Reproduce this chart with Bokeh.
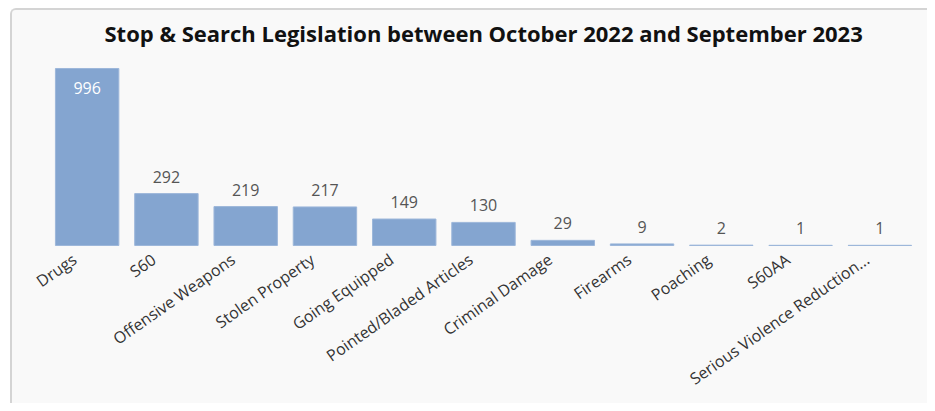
from bokeh.plotting import figure
from bokeh.models import ColumnDataSource, Range1d
from bokeh.embed import file_html
from bokeh.resources import INLINE
from bokeh.core.properties import value
import math

categories = ["Drugs", "S60", "Offensive Weapons", "Stolen Property", "Going Equipped",
              "Pointed/Bladed Articles", "Criminal Damage", "Firearms", "Poaching",
              "S60AA", "Serious Violence Reduction..."]
counts = [996, 292, 219, 217, 149, 130, 29, 9, 2, 1, 1]

title_text = "Stop & Search Legislation between October 2022 and September 2023"

BAR = "#84a5d0"
FONT = "Open Sans"

pos = list(range(len(categories)))
src = ColumnDataSource(dict(x=pos, cat=categories, val=counts, zero=[0] * len(counts)))

inside_idx = [i for i, v in enumerate(counts) if v > 500]
outside_idx = [i for i, v in enumerate(counts) if v <= 500]
src_in = ColumnDataSource(dict(x=inside_idx,
                               val=[counts[i] for i in inside_idx],
                               lab=[str(counts[i]) for i in inside_idx]))
src_out = ColumnDataSource(dict(x=outside_idx,
                                val=[counts[i] for i in outside_idx],
                                lab=[str(counts[i]) for i in outside_idx]))

W, H = 917, 395
RIGHT = 10
TOP = 42          # frame top (px from figure top)
BASE = 235        # baseline of bars (px from figure top)
LEFT_PAD = 35     # px of empty space left of the first category band
y_top = 1086      # value at frame top
px_per_unit = (BASE - TOP) / y_top
y_bottom = -(H - BASE) / px_per_unit

n = len(categories)
frame_w = W - RIGHT
band_px = (frame_w - LEFT_PAD) / n
x_start = -0.5 - LEFT_PAD / band_px
x_end = n - 0.5

p = figure(width=W, height=H, output_backend="svg", toolbar_location=None,
           x_range=Range1d(x_start, x_end),
           y_range=Range1d(y_bottom, y_top), title=title_text)
p.styles = {"margin-left": "10px", "margin-top": "8px",
            "border-left": "2px solid #d4d4d4", "border-top": "2px solid #d4d4d4",
            "border-top-left-radius": "6px", "background-color": "#f9f9f9"}

p.min_border_left = 0
p.min_border_right = RIGHT
p.min_border_top = TOP
p.min_border_bottom = 0
p.background_fill_color = "#f9f9f9"
p.border_fill_color = "#f9f9f9"
p.outline_line_color = None
p.grid.grid_line_color = None

p.title.align = "left"
p.title.offset = 92
p.title.text_font = FONT
p.title.text_font_size = "22px"
p.title.text_font_style = "bold"
p.title.text_color = "#111111"
p.title.standoff = 10

p.vbar(x="x", top="val", width=0.8, source=src, fill_color=BAR,
       line_color="#9db7da", line_width=1)

p.text(x="x", y="val", text="lab", source=src_out, text_align="center",
       text_baseline="bottom", y_offset=-11, text_font=value(FONT),
       text_font_size="16px", text_color="#555555")
p.text(x="x", y="val", text="lab", source=src_in, text_align="center",
       text_baseline="top", y_offset=14, text_font=value(FONT),
       text_font_size="16px", text_color="#ffffff")

# rotated category labels anchored at each category on the baseline
p.text(x="x", y="zero", text="cat", source=src, angle=math.radians(35),
       text_align="right", text_baseline="top", x_offset=-19, y_offset=3,
       text_font=value(FONT), text_font_size="16px", text_color="#333333")

p.yaxis.visible = False
p.xaxis.visible = False

open("out.html", "w").write(file_html(p, INLINE))
